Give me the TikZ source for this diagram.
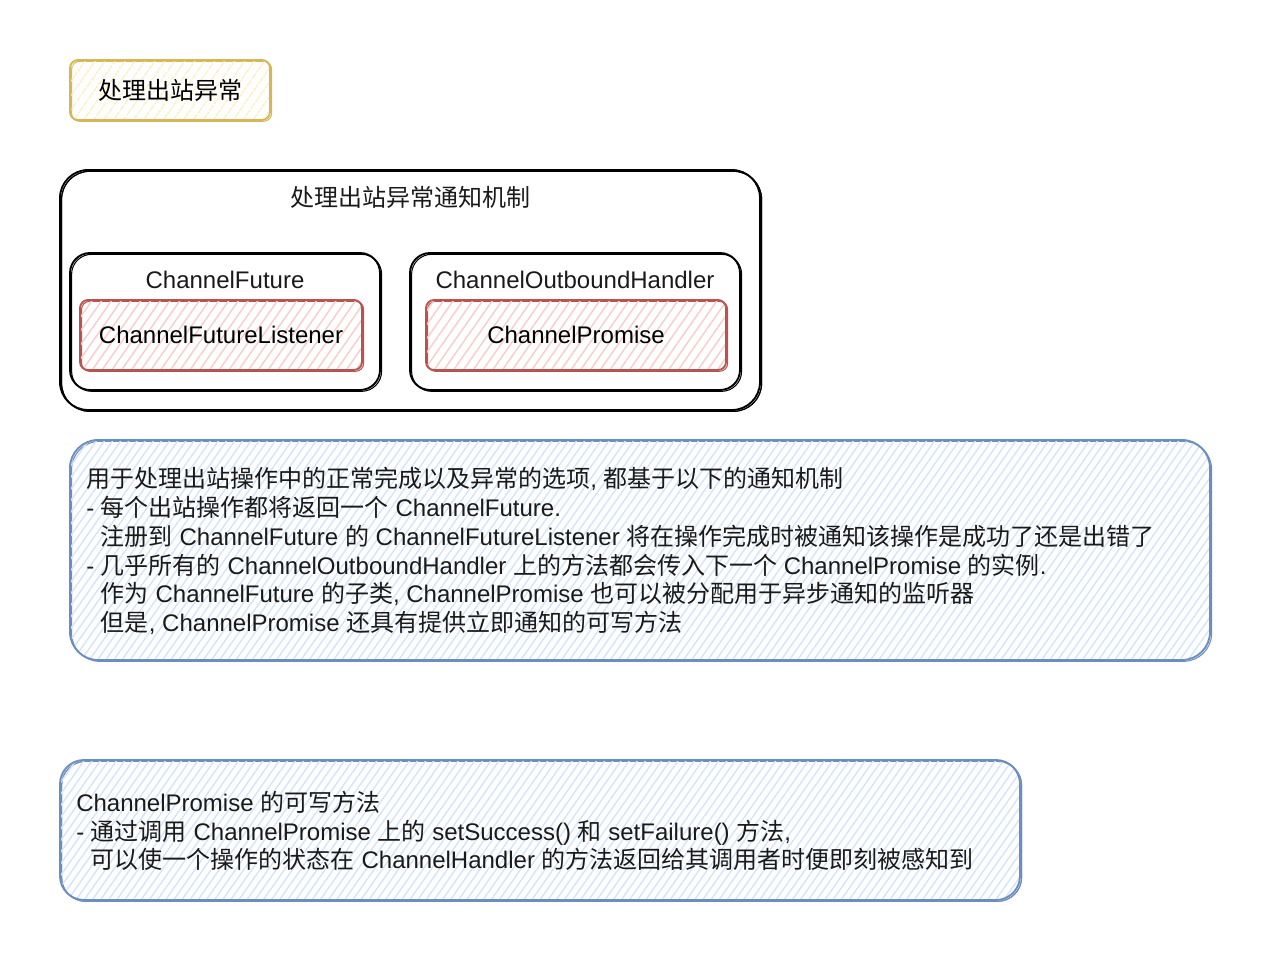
\documentclass[tikz,border=0pt]{standalone}
\usepackage{fontspec}
\setmainfont{Liberation Sans}
\newfontfamily\latinfont{Liberation Sans}
\newfontfamily\cjkfont{Noto Sans CJK SC}
\usetikzlibrary{positioning,patterns.meta}

% switch to the CJK family for ideographs
\newXeTeXintercharclass\cjkchars
\newcount\cjkcode
\cjkcode="4E00
\loop
  \XeTeXcharclass\cjkcode=\cjkchars
  \ifnum\cjkcode<"9FFF \advance\cjkcode by 1
\repeat
\XeTeXinterchartoks 0 \cjkchars = {\cjkfont}
\XeTeXinterchartoks 4095 \cjkchars = {\cjkfont}
\XeTeXinterchartoks \cjkchars 0 = {\latinfont}
\XeTeXinterchartoks \cjkchars 4095 = {\latinfont}

\newcommand{\px}[1]{#1*0.75pt}

\definecolor{noteline}{HTML}{D6B656}
\definecolor{notefill}{HTML}{FCEBB8}
\definecolor{redline}{HTML}{B85450}
\definecolor{redfill}{HTML}{F8CECC}
\definecolor{blueline}{HTML}{6C8EBF}
\definecolor{bluefill}{HTML}{D5E4FA}
\definecolor{ink}{HTML}{1A1A1A}

\tikzset{
  sketch/.style={line width=1.4pt, rounded corners=#1, inner sep=0pt,
    preaction={draw, line width=0.8pt,
      transform canvas={shift={(1.2pt,-1pt)}}}},
  hatch/.style 2 args={pattern={Lines[angle=55,distance=#2,line width=1.1pt]},
    pattern color=#1},
  plainbox/.style={draw=black, sketch=\px{20}},
  notebox/.style={draw=noteline, sketch=\px{8}, hatch={notefill}{6.5pt}},
  redbox/.style={draw=redline, sketch=\px{8}, hatch={redfill}{6pt}},
  bluebox/.style={draw=blueline, sketch=\px{28}, hatch={bluefill}{5pt}},
  boxtext/.style={inner sep=0pt, text=ink, text height=12pt, text depth=4pt},
  bodytext/.style={inner sep=0pt, text=ink, align=left,
    font=\fontsize{18}{21.6}\selectfont},
}

\begin{document}
\XeTeXinterchartokenstate=1
\begin{tikzpicture}[x=0.75pt,y=-0.75pt,
  every node/.append style={font=\fontsize{18}{21.6}\selectfont}]
  \useasboundingbox (0,0) rectangle (1272,962);

  \node[notebox, minimum width=\px{200}, minimum height=\px{60}] (alarm) at (170,90) {处理出站异常};

  \node[plainbox, sketch=\px{28}, minimum width=\px{700}, minimum height=\px{240}] (mechanism) at (410,290) {};
  \node[boxtext, below=\px{21} of mechanism.north] (mechtitle) {处理出站异常通知机制};

  \node[plainbox, minimum width=\px{310}, minimum height=\px{137}] (future) at (225,321.5) {};
  \node[boxtext, below=\px{20} of future.north] (futuretitle) {ChannelFuture};
  \node[redbox, minimum width=\px{282}, minimum height=\px{70}] (listener) at (221,335) {ChannelFutureListener};

  \node[plainbox, minimum width=\px{330}, minimum height=\px{137}] (handler) at (575,321.5) {};
  \node[boxtext, below=\px{20} of handler.north] (handlertitle) {ChannelOutboundHandler};
  \node[redbox, minimum width=\px{300}, minimum height=\px{70}] (promise) at (576,335) {ChannelPromise};

  \node[bluebox, minimum width=\px{1140}, minimum height=\px{220}] (usage) at (640,550) {};
  \node[bodytext, anchor=west] (usagetext) at (86,551) {%
    用于处理出站操作中的正常完成以及异常的选项, 都基于以下的通知机制\\
    - 每个出站操作都将返回一个 ChannelFuture.\\
    \hphantom{- }注册到 ChannelFuture 的 ChannelFutureListener 将在操作完成时被通知该操作是成功了还是出错了\\
    - 几乎所有的 ChannelOutboundHandler 上的方法都会传入下一个 ChannelPromise 的实例.\\
    \hphantom{- }作为 ChannelFuture 的子类, ChannelPromise 也可以被分配用于异步通知的监听器\\
    \hphantom{- }但是, ChannelPromise 还具有提供立即通知的可写方法};

  \node[bluebox, sketch=\px{24}, minimum width=\px{960}, minimum height=\px{140}] (writable) at (540,830) {};
  \node[bodytext, anchor=west] (writabletext) at (76,831) {%
    ChannelPromise 的可写方法\\
    - 通过调用 ChannelPromise 上的 setSuccess() 和 setFailure() 方法,\\
    \hphantom{- }可以使一个操作的状态在 ChannelHandler 的方法返回给其调用者时便即刻被感知到};
\end{tikzpicture}
\end{document}
